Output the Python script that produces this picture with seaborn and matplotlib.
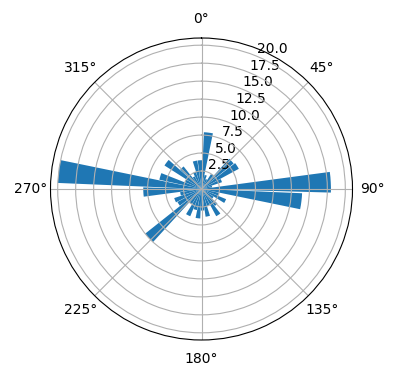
import numpy as np
import matplotlib
matplotlib.use("Agg")
import matplotlib.pyplot as plt
import seaborn as sns

# bar directions (degrees, clockwise from north) and lengths
angles_deg = [7, 17, 27, 37, 47, 57, 67, 77, 87, 97, 107, 117,
              127, 137, 147, 157, 167, 177, 187, 197, 207, 217, 227, 237,
              247, 257, 267, 277, 287, 297, 307, 317, 327, 337, 347, 357]
radii = [7.9, 2.0, 1.5, 2.5, 5.7, 5.9, 3.0, 1.5, 18.0, 14.0, 2.5, 3.7,
         2.0, 3.0, 4.3, 2.5, 3.9, 3.0, 4.1, 3.0, 4.1, 2.5, 10.0, 3.8,
         4.0, 3.0, 8.1, 20.0, 6.0, 2.5, 6.1, 4.0, 2.0, 2.5, 4.0, 4.0]
bar_width = 0.16

color = sns.color_palette("tab10")[0]

W, H = 396, 380
cx, cy, R = 201.5, 189, 151
fig = plt.figure(figsize=(W / 100, H / 100), dpi=100)
ax = fig.add_axes([(cx - R) / W, (H - cy - R) / H, 2 * R / W, 2 * R / H],
                  projection="polar")
ax.set_theta_zero_location("N")
ax.set_theta_direction(-1)
ax.bar(np.deg2rad(angles_deg), radii, width=bar_width, bottom=0.0, color=color)
fig.savefig("out.png", dpi=100)
